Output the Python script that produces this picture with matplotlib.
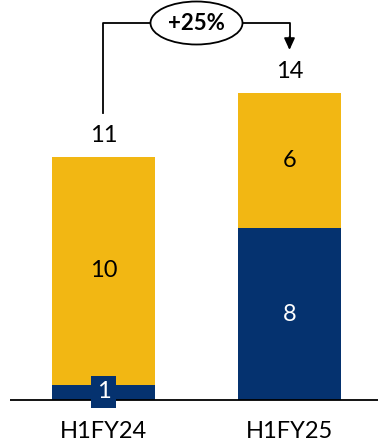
import matplotlib
matplotlib.use("Agg")
import matplotlib.pyplot as plt
from matplotlib.patches import Ellipse

categories = ["H1FY24", "H1FY25"]
blue_vals = [0.7, 7.85]
yellow_vals = [10.4, 6.15]
blue_labels = ["1", "8"]
yellow_labels = ["10", "6"]
total_labels = ["11", "14"]
growth_label = "+25%"

BLUE = "#05326F"
YELLOW = "#F2B713"
FONT = "Lato"

fig = plt.figure(figsize=(3.78, 4.45), dpi=100)
ax = fig.add_axes([0, 0, 1, 1])
px = 21.9  # pixels per unit
ax.set_ylim(-45 / px, 400 / px)
ax.set_xlim(-103.5 / 186, 1 + (378 - 289.5) / 186)
ax.axis("off")

x = list(range(len(categories)))
w = 103 / 186
ax.bar(x, blue_vals, width=w, color=BLUE, zorder=2)
ax.bar(x, yellow_vals, bottom=blue_vals, width=w, color=YELLOW, zorder=2)

ax.plot([10 / 186 - 103.5 / 186, ax.get_xlim()[1]], [0, 0], color="black", lw=1.3, zorder=3, solid_capstyle="butt")

fs = 17
for i in x:
    tot = blue_vals[i] + yellow_vals[i]
    ax.text(i, tot + 21.5 / px, total_labels[i], ha="center", va="center", fontsize=fs, family=FONT, color="black")
    ax.text(i, blue_vals[i] + yellow_vals[i] / 2, yellow_labels[i], ha="center", va="center", fontsize=fs, family=FONT, color="black")
    if blue_vals[i] > 2:
        ax.text(i, blue_vals[i] / 2, blue_labels[i], ha="center", va="center", fontsize=fs, family=FONT, color="white")
    else:
        ax.text(i, 8 / px, blue_labels[i], ha="center", va="center", fontsize=fs, family=FONT, color="white", zorder=5,
                bbox=dict(boxstyle="square,pad=0.25", fc=BLUE, ec="none"))
    ax.text(i, -31 / px, categories[i], ha="center", va="center", fontsize=fs, family=FONT, color="black")

# growth bracket
ytop = (400 - 23) / px
y0 = (400 - 113) / px
yarrow = (400 - 50) / px
ax.plot([0, 0, 1, 1], [y0, ytop, ytop, yarrow + 0.3], color="black", lw=1.3, zorder=3)
ax.annotate("", xy=(1, yarrow), xytext=(1, yarrow + 0.6),
            arrowprops=dict(arrowstyle="-|>,head_length=0.7,head_width=0.32", color="black", lw=1.3, shrinkA=0, shrinkB=0))
ell = Ellipse(((0 + 1) / 2, ytop), width=92 / 186, height=43 / px, fc="white", ec="black", lw=1.3, zorder=4)
ax.add_patch(ell)
ax.text(0.5, ytop, growth_label, ha="center", va="center", fontsize=16, fontweight="bold", family=FONT, zorder=5)

fig.savefig("out.png", dpi=100)
